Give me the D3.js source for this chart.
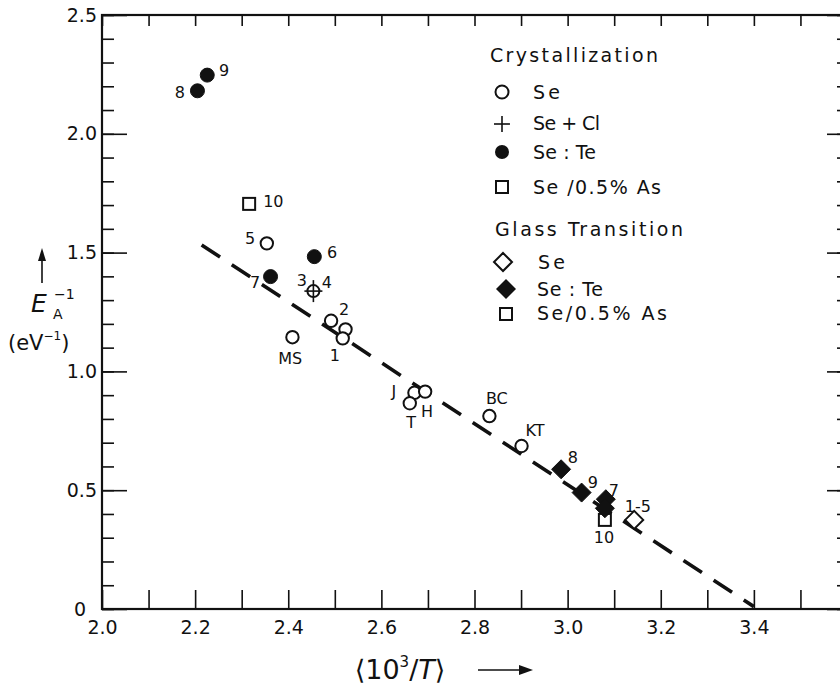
<!DOCTYPE html>
<html><head><meta charset="utf-8">
<script src="https://cdn.jsdelivr.net/npm/d3@7"></script>
<style>body{margin:0;background:#fff}svg{display:block}</style>
</head><body>
<svg id="c" width="840" height="689"></svg>
<script>
// ---------- data ----------
const xTickLabels = [2.0, 2.2, 2.4, 2.6, 2.8, 3.0, 3.2, 3.4];
const xMinorTicks = d3.range(20, 36).map(d => d / 10);
const yTickLabels = [0.5, 1.0, 1.5, 2.0, 2.5];
const yMinorTicks = d3.range(0, 26).map(d => d / 10);
const yMajorTicks = [0, 0.5, 1.0, 1.5, 2.0, 2.5];

// Crystallization
const crySeX   = [2.354, 2.492, 2.523, 2.517, 2.409, 2.671, 2.694, 2.661, 2.832, 2.901];
const crySeY   = [1.539, 1.213, 1.177, 1.139, 1.144, 0.910, 0.915, 0.866, 0.812, 0.686];
const crySeClX = [2.454];
const crySeClY = [1.338];
const crySeTeX = [2.205, 2.226, 2.456, 2.362];
const crySeTeY = [2.181, 2.247, 1.483, 1.399];
const cryAsX   = [2.316];
const cryAsY   = [1.705];
// Glass transition
const glSeX    = [3.143];
const glSeY    = [0.375];
const glSeTeX  = [2.986, 3.030, 3.082, 3.080];
const glSeTeY  = [0.588, 0.490, 0.462, 0.424];
const glAsX    = [3.080];
const glAsY    = [0.375];
// fitted line
const fitX = [2.214, 3.40];
const fitY = [1.532, 0.01];
// point annotations (text, position in data units)
const noteText = ["8", "9", "10", "5", "6", "7", "3", "4", "2", "1", "MS", "J", "H", "T", "BC", "KT", "8", "9", "7", "1-5", "10"];
const noteX    = [2.167, 2.262, 2.368, 2.318, 2.494, 2.329, 2.429, 2.483, 2.520, 2.500, 2.404, 2.627, 2.698, 2.664, 2.848, 2.930, 3.011, 3.054, 3.099, 3.151, 3.078];
const noteY    = [2.176, 2.268, 1.717, 1.560, 1.503, 1.376, 1.383, 1.376, 1.262, 1.069, 1.056, 0.918, 0.833, 0.787, 0.888, 0.753, 0.640, 0.535, 0.501, 0.434, 0.303];

// legend
const legendGroups = ["Crystallization", "Glass Transition"];
const legCryText = ["Se", "Se + Cl", "Se : Te", "Se /0.5% As"];
const legGlText  = ["Se", "Se : Te", "Se/0.5% As"];

// ---------- drawing ----------
const svg = d3.select("#c");
const F = "'DejaVu Sans', 'Noto Sans', sans-serif";
const x = d3.scaleLinear().domain([2.0, 3.6]).range([102, 847]);
const y = d3.scaleLinear().domain([0, 2.5]).range([609, 15]);
const ink = "#111";

// frame
svg.append("rect").attr("x", x(2.0)).attr("y", y(2.5))
  .attr("width", x(3.6) - x(2.0)).attr("height", y(0) - y(2.5))
  .attr("fill", "none").attr("stroke", ink).attr("stroke-width", 2.2);

function tickAxis(gen, tx, ty) {
  const g = svg.append("g").attr("transform", `translate(${tx},${ty})`).call(gen);
  g.select(".domain").remove();
  g.selectAll("line").attr("stroke", ink).attr("stroke-width", 1.6);
  return g;
}
// left ticks (inward)
tickAxis(d3.axisRight(y).tickValues(yMinorTicks).tickSize(12).tickFormat(""), x(2.0), 0);
tickAxis(d3.axisRight(y).tickValues(yMajorTicks).tickSize(25).tickFormat(""), x(2.0), 0);
// right ticks (inward)
tickAxis(d3.axisLeft(y).tickValues(yMinorTicks).tickSize(10).tickFormat(""), x(3.6), 0);
tickAxis(d3.axisLeft(y).tickValues(yMajorTicks).tickSize(20).tickFormat(""), x(3.6), 0);
// bottom ticks (inward)
tickAxis(d3.axisTop(x).tickValues(xMinorTicks).tickSize(19).tickFormat(""), 0, y(0));
// top ticks (inward)
tickAxis(d3.axisBottom(x).tickValues(xMinorTicks).tickSize(11).tickFormat(""), 0, y(2.5));

// tick labels
const yl = svg.append("g").attr("transform", `translate(${x(2.0)},0)`)
  .call(d3.axisLeft(y).tickValues(yTickLabels).tickSize(0).tickPadding(5).tickFormat(d3.format(".1f")));
yl.select(".domain").remove();
yl.selectAll("text").attr("font-family", F).attr("font-size", 19).attr("fill", ink);
svg.append("text").attr("x", 86).attr("y", y(0)).attr("dy", "0.36em").attr("text-anchor", "end")
  .attr("font-family", F).attr("font-size", 19).attr("fill", ink).text("0");

const xl = svg.append("g").attr("transform", `translate(0,${y(0)})`)
  .call(d3.axisBottom(x).tickValues(xTickLabels).tickSize(0).tickPadding(12).tickFormat(d3.format(".1f")));
xl.select(".domain").remove();
xl.selectAll("text").attr("font-family", F).attr("font-size", 19).attr("fill", ink);

// axis titles
const xt = svg.append("text").attr("x", 400).attr("y", 679).attr("text-anchor", "middle")
  .attr("font-family", F).attr("font-size", 27).attr("fill", ink);
xt.append("tspan").text("⟨10");
xt.append("tspan").attr("font-size", 15).attr("dy", -12).text("3");
xt.append("tspan").attr("dy", 12).text("/");
xt.append("tspan").attr("font-style", "italic").text("T");
xt.append("tspan").text("⟩");
// arrow after x title
svg.append("line").attr("x1", 478).attr("x2", 522).attr("y1", 670).attr("y2", 670)
  .attr("stroke", ink).attr("stroke-width", 1.6);
svg.append("path").attr("d", "M533,670 L519,665 L519,675 Z").attr("fill", ink);

// y title
svg.append("line").attr("x1", 42).attr("x2", 42).attr("y1", 283).attr("y2", 258)
  .attr("stroke", ink).attr("stroke-width", 1.6);
svg.append("path").attr("d", "M42,248 L38,261 L46,261 Z").attr("fill", ink);
svg.append("text").attr("x", 31).attr("y", 312).attr("font-family", F).attr("font-size", 25)
  .attr("font-style", "italic").attr("fill", ink).text("E");
svg.append("text").attr("x", 54).attr("y", 299).attr("font-family", F).attr("font-size", 14)
  .attr("fill", ink).text("−1");
svg.append("text").attr("x", 53).attr("y", 319).attr("font-family", F).attr("font-size", 14)
  .attr("fill", ink).text("A");
const ev = svg.append("text").attr("x", 8).attr("y", 350).attr("font-family", F).attr("font-size", 21)
  .attr("fill", ink);
ev.append("tspan").text("(eV");
ev.append("tspan").attr("font-size", 12).attr("dy", -10).text("−1");
ev.append("tspan").attr("dy", 10).text(")");

// fitted dashed line
svg.append("line").attr("x1", x(fitX[0])).attr("y1", y(fitY[0]))
  .attr("x2", x(fitX[1])).attr("y2", y(fitY[1]))
  .attr("stroke", ink).attr("stroke-width", 3.6).attr("stroke-dasharray", "22,14");

// marker helpers
function circles(xs, ys, r, filled) {
  svg.append("g").selectAll("circle").data(xs).join("circle")
    .attr("cx", d => x(d)).attr("cy", (d, i) => y(ys[i])).attr("r", r)
    .attr("fill", filled ? ink : "#fff").attr("stroke", ink).attr("stroke-width", filled ? 1 : 2);
}
function squares(xs, ys, s) {
  svg.append("g").selectAll("rect").data(xs).join("rect")
    .attr("x", d => x(d) - s / 2).attr("y", (d, i) => y(ys[i]) - s / 2)
    .attr("width", s).attr("height", s)
    .attr("fill", "#fff").attr("stroke", ink).attr("stroke-width", 2);
}
function diamonds(xs, ys, h, filled) {
  svg.append("g").selectAll("path").data(xs).join("path")
    .attr("d", (d, i) => { const cx = x(d), cy = y(ys[i]);
      return `M${cx},${cy - h}L${cx + h},${cy}L${cx},${cy + h}L${cx - h},${cy}Z`; })
    .attr("fill", filled ? ink : "#fff").attr("stroke", ink).attr("stroke-width", filled ? 1 : 2);
}
function crossed(xs, ys, r) {
  const g = svg.append("g");
  xs.forEach((d, i) => {
    const cx = x(d), cy = y(ys[i]);
    g.append("circle").attr("cx", cx).attr("cy", cy).attr("r", r)
      .attr("fill", "#fff").attr("stroke", ink).attr("stroke-width", 2);
    g.append("line").attr("x1", cx).attr("x2", cx).attr("y1", cy - 11).attr("y2", cy + 11)
      .attr("stroke", ink).attr("stroke-width", 1.6);
    g.append("line").attr("x1", cx - 9).attr("x2", cx + 9).attr("y1", cy).attr("y2", cy)
      .attr("stroke", ink).attr("stroke-width", 1.6);
  });
}

circles(crySeX, crySeY, 6.2, false);
crossed(crySeClX, crySeClY, 6);
circles(crySeTeX, crySeTeY, 7, true);
squares(cryAsX, cryAsY, 12);
squares(glAsX, glAsY, 12);
diamonds(glSeX, glSeY, 9, false);
diamonds(glSeTeX, glSeTeY, 9.5, true);

// annotations
svg.append("g").selectAll("text").data(noteText).join("text")
  .attr("x", (d, i) => x(noteX[i])).attr("y", (d, i) => y(noteY[i]))
  .attr("dy", "0.36em").attr("text-anchor", "middle")
  .attr("font-family", F).attr("font-size", 16).attr("fill", ink).text(d => d);

// legend
function legText(t, tx, ty, len, size) {
  svg.append("text").attr("x", tx).attr("y", ty).attr("dy", "0.36em")
    .attr("font-family", F).attr("font-size", size).attr("fill", ink)
    .attr("textLength", len).attr("lengthAdjust", "spacing").text(t);
}
legText(legendGroups[0], 490, 55, 168, 19);
legText(legendGroups[1], 495, 229, 188, 19);
const cryRowY = [92, 123, 152, 187];
const cryLen = [27, 67, 63, 128];
legCryText.forEach((t, i) => legText(t, 533, cryRowY[i], cryLen[i], 19));
const glRowY = [262, 289, 313];
const glLen = [27, 66, 130];
const glTx = [538, 537, 537];
legGlText.forEach((t, i) => legText(t, glTx[i], glRowY[i], glLen[i], 19));

// legend symbols
const L = svg.append("g");
L.append("circle").attr("cx", 502).attr("cy", 92).attr("r", 6.5).attr("fill", "#fff").attr("stroke", ink).attr("stroke-width", 2);
L.append("line").attr("x1", 502).attr("x2", 502).attr("y1", 116).attr("y2", 132).attr("stroke", ink).attr("stroke-width", 1.6);
L.append("line").attr("x1", 494).attr("x2", 510).attr("y1", 124).attr("y2", 124).attr("stroke", ink).attr("stroke-width", 1.6);
L.append("circle").attr("cx", 502).attr("cy", 152).attr("r", 7).attr("fill", ink);
L.append("rect").attr("x", 496).attr("y", 181).attr("width", 12).attr("height", 12).attr("fill", "#fff").attr("stroke", ink).attr("stroke-width", 2);
L.append("path").attr("d", "M503,253L512,262L503,271L494,262Z").attr("fill", "#fff").attr("stroke", ink).attr("stroke-width", 2);
L.append("path").attr("d", "M506,279L516,289L506,299L496,289Z").attr("fill", ink);
L.append("rect").attr("x", 500).attr("y", 308).attr("width", 12).attr("height", 12).attr("fill", "#fff").attr("stroke", ink).attr("stroke-width", 2);
</script>
</body></html>
